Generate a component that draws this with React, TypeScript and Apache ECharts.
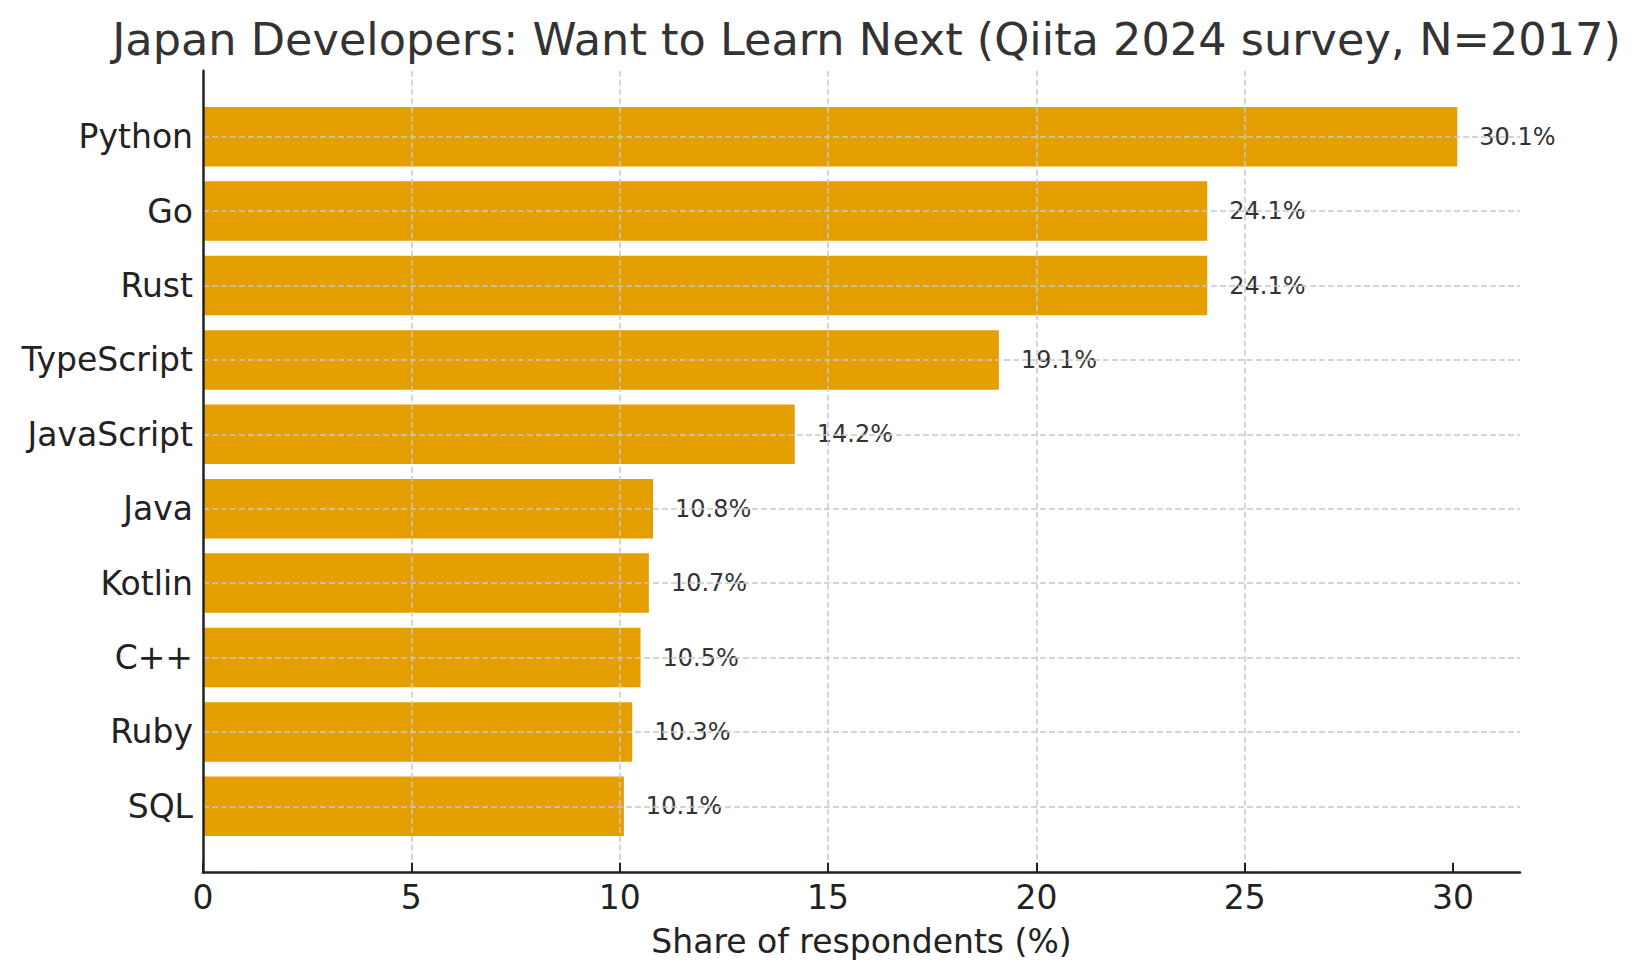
import React, { useEffect, useRef } from "react";
import * as echarts from "echarts";

const categories = ["Python", "Go", "Rust", "TypeScript", "JavaScript", "Java", "Kotlin", "C++", "Ruby", "SQL"];
const shares = [30.1, 24.1, 24.1, 19.1, 14.2, 10.8, 10.7, 10.5, 10.3, 10.1];
const xTicks = [0, 5, 10, 15, 20, 25, 30];
const xMax = 31.605;
const titleText = "Japan Developers: Want to Learn Next (Qiita 2024 survey, N=2017)";
const xAxisName = "Share of respondents (%)";

export default function App() {
  const ref = useRef<HTMLDivElement>(null);
  useEffect(() => {
    const chart = echarts.init(ref.current as HTMLDivElement, null, { renderer: "svg" });
    const font = "DejaVu Sans";
    const left = 203;
    const right = 114;
    const dark = "#222222";
    const gridLine = { color: "#c8c8c8", type: [6, 3] as number[], width: 1.5 };
    chart.setOption({
      animation: false,
      backgroundColor: "#ffffff",
      textStyle: { fontFamily: font },
      title: {
        text: titleText,
        left: 861.5,
        textAlign: "center",
        top: 12,
        textStyle: { fontFamily: font, fontSize: 44.6, fontWeight: "normal", color: "#333333" },
      },
      grid: [
        { left, right, top: 99.5, bottom: 136.5 },
        { left, right, top: 70.7, bottom: 107.3 },
      ],
      xAxis: [
        { gridIndex: 0, type: "value", min: 0, max: xMax, show: false },
        {
          gridIndex: 1,
          type: "value",
          min: 0,
          max: xMax,
          interval: 5,
          z: 6,
          name: xAxisName,
          nameLocation: "middle",
          nameGap: 52,
          nameTextStyle: { fontFamily: font, fontSize: 33, color: dark },
          axisLine: { show: true, onZero: false, lineStyle: { color: dark, width: 2.5 } },
          axisTick: { show: true, inside: true, length: 10, customValues: xTicks, lineStyle: { color: dark, width: 2 } },
          axisLabel: {
            show: true,
            customValues: xTicks,
            margin: 8,
            fontFamily: font,
            fontSize: 33,
            color: dark,
            formatter: (v: number) => String(v),
          },
          splitLine: { show: true, showMinLine: false, showMaxLine: false, lineStyle: gridLine },
        },
      ],
      yAxis: [
        {
          gridIndex: 0,
          type: "category",
          data: categories,
          inverse: true,
          axisLine: { show: false },
          axisTick: { show: true, inside: true, alignWithLabel: true, length: 10, lineStyle: { color: dark, width: 2 } },
          axisLabel: { margin: 10, fontFamily: font, fontSize: 33, color: dark },
          splitLine: { show: false },
        },
        {
          gridIndex: 1,
          type: "value",
          min: 0,
          max: 1,
          z: 6,
          axisLine: { show: true, onZero: false, lineStyle: { color: dark, width: 2.5 } },
          axisTick: { show: false },
          axisLabel: { show: false },
          splitLine: { show: false },
        },
      ],
      series: [
        {
          type: "bar",
          xAxisIndex: 0,
          yAxisIndex: 0,
          data: shares,
          barCategoryGap: "20%",
          itemStyle: { color: "#E69F00" },
          emphasis: { disabled: true },
          label: {
            show: true,
            position: "right",
            distance: 22,
            fontFamily: font,
            fontSize: 24,
            color: "#333333",
            formatter: (p: any) => `${Number(p.value).toFixed(1)}%`,
          },
          markLine: {
            silent: true,
            symbol: "none",
            label: { show: false },
            lineStyle: gridLine,
            emphasis: { disabled: true },
            data: categories.map((c) => ({ yAxis: c })),
          },
        },
      ],
    });
    return () => chart.dispose();
  }, []);
  return <div ref={ref} style={{ position: "absolute", left: 0, top: 0, width: 1634, height: 980 }} />;
}
